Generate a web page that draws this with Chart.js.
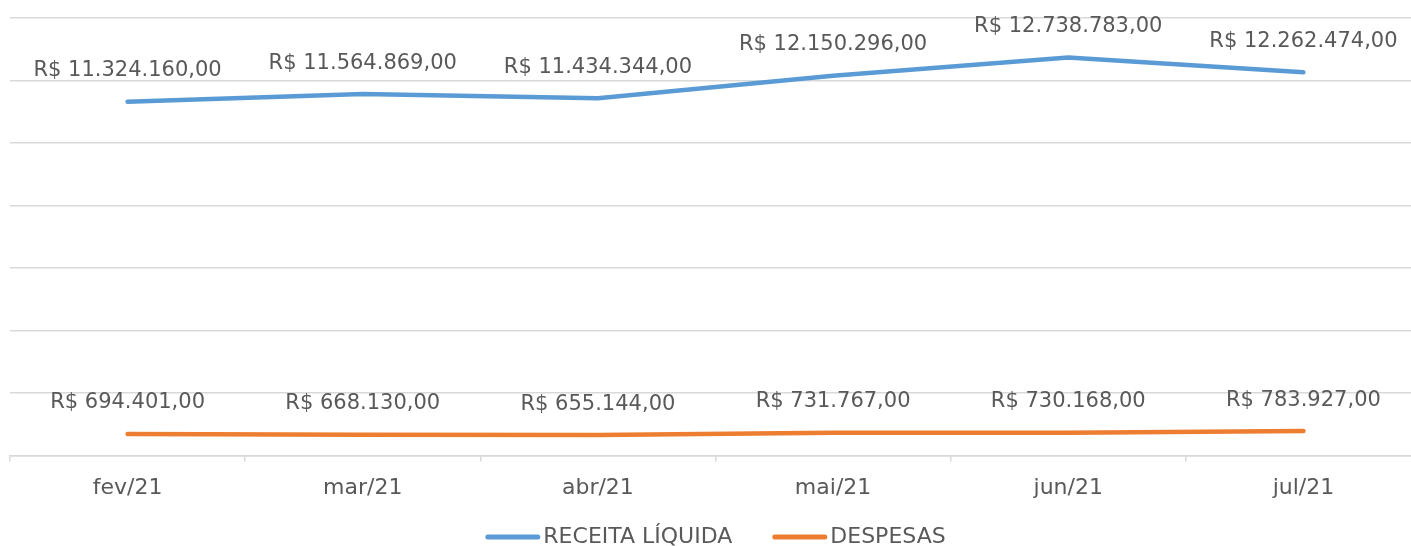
<!DOCTYPE html>
<html><head><meta charset="utf-8">
<script src="https://cdn.jsdelivr.net/npm/chart.js@4"></script>
<style>html,body{margin:0;padding:0;overflow:hidden;background:#fff}
#wrap{width:1421px;height:546px;position:relative}</style></head>
<body><div id="wrap"><canvas id="c"></canvas></div>
<script>
const categories = ['fev/21','mar/21','abr/21','mai/21','jun/21','jul/21'];
const receitaLiquida = [11324160, 11564869, 11434344, 12150296, 12738783, 12262474];
const despesas = [694401, 668130, 655144, 731767, 730168, 783927];
const seriesNames = ['RECEITA LÍQUIDA','DESPESAS'];
const yMin = 0, yMax = 14000000, yStep = 2000000;

const FONT = '"DejaVu Sans", sans-serif';
const TEXT = '#595959';

function brl(v){
  const s = Math.round(v).toString().replace(/\B(?=(\d{3})+(?!\d))/g,'.');
  return 'R$ ' + s + ',00';
}

const dataLabels = {
  id:'dataLabels',
  afterDatasetsDraw(chart){
    const ctx = chart.ctx;
    ctx.save();
    ctx.font = '21px ' + FONT;
    ctx.fillStyle = TEXT;
    ctx.textAlign = 'center';
    ctx.textBaseline = 'middle';
    chart.data.datasets.forEach((ds,i)=>{
      chart.getDatasetMeta(i).data.forEach((pt,j)=>{
        ctx.fillText(brl(ds.data[j]), pt.x, pt.y - 31);
      });
    });
    ctx.restore();
  }
};

const customLegend = {
  id:'customLegend',
  afterDraw(chart){
    const ctx = chart.ctx;
    ctx.save();
    ctx.font = '22px ' + FONT;
    const box = 55, gap = 3, between = 40;
    const items = chart.data.datasets.map(ds=>({t:ds.label,c:ds.borderColor,w:ctx.measureText(ds.label).width}));
    let total = items.reduce((a,it)=>a+box+gap+it.w,0) + between*(items.length-1);
    const ca = chart.chartArea;
    let x = (ca.left+ca.right)/2 - total/2;
    const y = 537;
    items.forEach(it=>{
      ctx.strokeStyle = it.c; ctx.lineWidth = 5; ctx.lineCap='round';
      ctx.beginPath(); ctx.moveTo(x+2.5,y); ctx.lineTo(x+box-2.5,y); ctx.stroke();
      ctx.fillStyle = TEXT; ctx.textAlign='left'; ctx.textBaseline='middle';
      ctx.fillText(it.t, x+box+gap, y);
      x += box+gap+it.w+between;
    });
    ctx.restore();
  }
};

new Chart(document.getElementById('c'), {
  type:'line',
  data:{
    labels:categories,
    datasets:[
      {label:seriesNames[0], data:receitaLiquida, borderColor:'#5B9BD5', backgroundColor:'#5B9BD5', borderWidth:4.5, pointRadius:0, tension:0, borderCapStyle:'round'},
      {label:seriesNames[1], data:despesas, borderColor:'#ED7D31', backgroundColor:'#ED7D31', borderWidth:4.5, pointRadius:0, tension:0, borderCapStyle:'round'}
    ]
  },
  options:{
    responsive:true, maintainAspectRatio:false, animation:false,
    layout:{padding:{left:10,right:0,top:18,bottom:32}},
    plugins:{legend:{display:false}, tooltip:{enabled:false}},
    scales:{
      x:{
        offset:true,
        grid:{offset:true, drawOnChartArea:false, drawTicks:true, tickLength:6, color:'#D9D9D9', lineWidth:1.5},
        border:{display:true, color:'#D9D9D9', width:1.5},
        ticks:{color:TEXT, font:{family:FONT, size:22}, padding:13, maxRotation:0}
      },
      y:{
        min:yMin, max:yMax,
        ticks:{display:false, stepSize:yStep},
        grid:{color:'#D9D9D9', lineWidth:1.5, drawTicks:false},
        border:{display:false},
        afterFit(s){ s.width = 0; }
      }
    }
  },
  plugins:[dataLabels, customLegend]
});
</script></body></html>
